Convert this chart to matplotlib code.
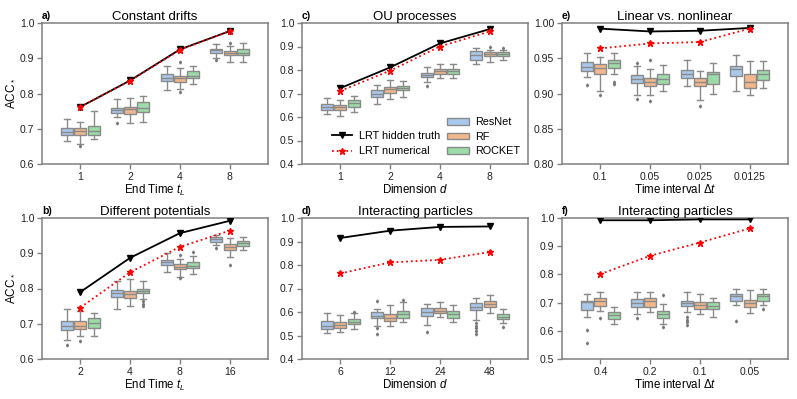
import matplotlib
matplotlib.use('Agg')
import matplotlib.pyplot as plt
from matplotlib.patches import Patch
from matplotlib.lines import Line2D

plt.rcParams['font.family'] = ['Liberation Sans', 'DejaVu Sans']
plt.rcParams['mathtext.fontset'] = 'custom'
plt.rcParams['mathtext.rm'] = 'Liberation Sans'
plt.rcParams['mathtext.it'] = 'Liberation Sans:italic'

MODELS = ['ResNet', 'RF', 'ROCKET']
COLORS = ['#a9c8ec', '#f2b78c', '#9ddba8']
EDGE = '#8a8a8a'

# ---- panel a: constant drifts ----
a_ticks = ['1', '2', '4', '8']
a_truth = [0.762, 0.837, 0.925, 0.977]
a_num = [0.762, 0.836, 0.924, 0.977]
# per model: [whislo, q1, med, q3, whishi] per group
a_stats = [
    [[0.665, 0.682, 0.692, 0.703, 0.729], [0.732, 0.745, 0.753, 0.760, 0.783],
     [0.810, 0.836, 0.845, 0.855, 0.878], [0.902, 0.916, 0.922, 0.927, 0.940]],
    [[0.658, 0.682, 0.693, 0.703, 0.718], [0.717, 0.741, 0.755, 0.762, 0.788],
     [0.814, 0.834, 0.843, 0.851, 0.873], [0.888, 0.908, 0.915, 0.921, 0.935]],
    [[0.670, 0.683, 0.695, 0.709, 0.750], [0.718, 0.747, 0.758, 0.775, 0.793],
     [0.828, 0.844, 0.851, 0.863, 0.878], [0.890, 0.908, 0.916, 0.925, 0.942]],
]
a_fliers = [
    [[], [0.715], [], [0.895]],
    [[0.651], [], [0.890, 0.803], [0.943]],
    [[], [], [], []],
]

# ---- panel b: different potentials ----
b_ticks = ['2', '4', '8', '16']
b_truth = [0.790, 0.887, 0.957, 0.992]
b_num = [0.746, 0.846, 0.918, 0.964]
b_stats = [
    [[0.653, 0.683, 0.693, 0.708, 0.741], [0.743, 0.776, 0.787, 0.797, 0.821],
     [0.847, 0.866, 0.875, 0.882, 0.902], [0.923, 0.933, 0.941, 0.946, 0.953]],
    [[0.666, 0.686, 0.694, 0.707, 0.735], [0.751, 0.774, 0.784, 0.794, 0.826],
     [0.834, 0.855, 0.862, 0.869, 0.885], [0.888, 0.908, 0.917, 0.925, 0.942]],
    [[0.664, 0.689, 0.703, 0.715, 0.730], [0.770, 0.786, 0.792, 0.800, 0.821],
     [0.842, 0.857, 0.865, 0.875, 0.892], [0.908, 0.921, 0.928, 0.935, 0.947]],
]
b_fliers = [
    [[0.640], [], [], [0.915]],
    [[0.652], [], [0.894, 0.830], [0.868]],
    [[], [0.764, 0.757, 0.750], [0.904], []],
]

# ---- panel c: OU processes ----
c_ticks = ['1', '2', '4', '8']
c_truth = [0.723, 0.811, 0.913, 0.974]
c_num = [0.711, 0.797, 0.900, 0.964]
c_stats = [
    [[0.612, 0.630, 0.644, 0.656, 0.680], [0.656, 0.684, 0.698, 0.716, 0.737],
     [0.747, 0.770, 0.780, 0.789, 0.811], [0.825, 0.844, 0.862, 0.879, 0.893]],
    [[0.606, 0.630, 0.642, 0.651, 0.673], [0.676, 0.701, 0.718, 0.727, 0.758],
     [0.768, 0.784, 0.796, 0.805, 0.825], [0.836, 0.858, 0.869, 0.875, 0.885]],
    [[0.623, 0.644, 0.658, 0.673, 0.690], [0.687, 0.713, 0.725, 0.733, 0.755],
     [0.765, 0.784, 0.796, 0.805, 0.825], [0.841, 0.858, 0.868, 0.875, 0.885]],
]
c_fliers = [
    [[], [], [0.730], []],
    [[], [], [], [0.896]],
    [[], [], [], [0.893]],
]

# ---- panel d: interacting particles (dimension) ----
d_ticks = ['6', '12', '24', '48']
d_truth = [0.915, 0.946, 0.962, 0.964]
d_num = [0.764, 0.811, 0.822, 0.855]
d_stats = [
    [[0.509, 0.528, 0.542, 0.562, 0.595], [0.542, 0.573, 0.585, 0.599, 0.613],
     [0.545, 0.583, 0.602, 0.616, 0.634], [0.566, 0.609, 0.623, 0.640, 0.659]],
    [[0.514, 0.531, 0.545, 0.559, 0.588], [0.541, 0.562, 0.573, 0.590, 0.630],
     [0.580, 0.595, 0.606, 0.616, 0.644], [0.595, 0.620, 0.634, 0.647, 0.672]],
    [[0.528, 0.548, 0.559, 0.569, 0.595], [0.559, 0.576, 0.590, 0.605, 0.642],
     [0.559, 0.576, 0.590, 0.605, 0.630], [0.552, 0.570, 0.580, 0.590, 0.613]],
]
d_fliers = [
    [[], [0.647, 0.530, 0.505], [0.513], [0.552, 0.540, 0.530, 0.520, 0.505]],
    [[], [], [], []],
    [[0.600], [0.650], [], [0.535]],
]

# ---- panel e: linear vs. nonlinear ----
e_ticks = ['0.1', '0.05', '0.025', '0.0125']
e_truth = [0.992, 0.988, 0.989, 0.993]
e_num = [0.964, 0.971, 0.973, 0.992]
e_stats = [
    [[0.923, 0.932, 0.938, 0.944, 0.957], [0.898, 0.915, 0.921, 0.926, 0.939],
     [0.911, 0.922, 0.928, 0.934, 0.947], [0.904, 0.925, 0.935, 0.939, 0.954]],
    [[0.904, 0.927, 0.936, 0.942, 0.952], [0.898, 0.911, 0.917, 0.922, 0.935],
     [0.891, 0.910, 0.917, 0.922, 0.932], [0.898, 0.908, 0.917, 0.927, 0.946]],
    [[0.927, 0.936, 0.943, 0.947, 0.957], [0.903, 0.914, 0.920, 0.928, 0.941],
     [0.899, 0.913, 0.927, 0.930, 0.943], [0.908, 0.919, 0.927, 0.934, 0.946]],
]
e_fliers = [
    [[0.912], [0.943, 0.892], [], []],
    [[0.898], [0.948, 0.890], [0.882], []],
    [[0.917, 0.914], [], [], []],
]

# ---- panel f: interacting particles (time interval) ----
f_ticks = ['0.4', '0.2', '0.1', '0.05']
f_truth = [0.992, 0.992, 0.995, 0.995]
f_num = [0.801, 0.866, 0.913, 0.963]
f_stats = [
    [[0.650, 0.674, 0.701, 0.704, 0.731], [0.660, 0.684, 0.700, 0.713, 0.736],
     [0.668, 0.688, 0.700, 0.707, 0.739], [0.692, 0.707, 0.722, 0.730, 0.748]],
    [[0.671, 0.688, 0.706, 0.718, 0.739], [0.665, 0.684, 0.704, 0.716, 0.737],
     [0.660, 0.677, 0.692, 0.701, 0.730], [0.662, 0.686, 0.698, 0.710, 0.743]],
    [[0.624, 0.641, 0.656, 0.668, 0.686], [0.624, 0.647, 0.660, 0.671, 0.694],
     [0.650, 0.677, 0.688, 0.701, 0.716], [0.692, 0.707, 0.724, 0.730, 0.748]],
]
f_fliers = [
    [[0.603, 0.556], [0.645], [0.650, 0.640, 0.630, 0.620], [0.635]],
    [[0.647], [], [], []],
    [[], [0.727, 0.613], [], [0.677]],
]

PANELS = [
    ('a)', 'Constant drifts', 'End Time $t_L$', a_ticks, a_truth, a_num, a_stats, a_fliers, (0.6, 1.0), 0.1, '%.1f'),
    ('b)', 'Different potentials', 'End Time $t_L$', b_ticks, b_truth, b_num, b_stats, b_fliers, (0.6, 1.0), 0.1, '%.1f'),
    ('c)', 'OU processes', 'Dimension $d$', c_ticks, c_truth, c_num, c_stats, c_fliers, (0.4, 1.0), 0.1, '%.1f'),
    ('d)', 'Interacting particles', 'Dimension $d$', d_ticks, d_truth, d_num, d_stats, d_fliers, (0.4, 1.0), 0.1, '%.1f'),
    ('e)', 'Linear vs. nonlinear', r'Time interval $\Delta t$', e_ticks, e_truth, e_num, e_stats, e_fliers, (0.8, 1.0), 0.05, '%.2f'),
    ('f)', 'Interacting particles', r'Time interval $\Delta t$', f_ticks, f_truth, f_num, f_stats, f_fliers, (0.5, 1.0), 0.1, '%.1f'),
]

W, H = 797, 399
fig = plt.figure(figsize=(W / 100, H / 100), dpi=100)
lefts = [42, 302, 562]
tops = [23, 218]
aw, ah = 226, 141


def draw_panel(ax, label, title, xlabel, ticks, truth, num, stats, fliers, ylim, ystep, fmt):
    n = len(ticks)
    offsets = [-0.267, 0.0, 0.267]
    for m in range(3):
        bx = []
        for g in range(n):
            lo, q1, med, q3, hi = stats[m][g]
            bx.append(dict(whislo=lo, q1=q1, med=med, q3=q3, whishi=hi, fliers=fliers[m][g]))
        ax.bxp(bx, positions=[g + offsets[m] for g in range(n)], widths=0.245,
               patch_artist=True, showfliers=True, manage_ticks=False,
               boxprops=dict(facecolor=COLORS[m], edgecolor=EDGE, linewidth=1.0),
               medianprops=dict(color=EDGE, linewidth=1.0),
               whiskerprops=dict(color=EDGE, linewidth=1.0),
               capprops=dict(color=EDGE, linewidth=1.0),
               flierprops=dict(marker='d', markersize=1.5, markerfacecolor='#777777',
                               markeredgecolor='#777777', linestyle='none'))
    xs = list(range(n))
    ax.plot(xs, truth, color='black', marker='v', markersize=4, linewidth=1.3, zorder=5)
    ax.plot(xs, num, color='red', marker='*', markersize=4.5, linestyle=':', linewidth=1.3, zorder=6)
    ax.set_xlim(-0.77, n - 1 + 0.77)
    ax.set_xticks(xs)
    ax.set_xticklabels(ticks)
    ax.set_ylim(*ylim)
    yt = []
    v = ylim[0]
    while v <= ylim[1] + 1e-9:
        yt.append(round(v, 4))
        v += ystep
    ax.set_yticks(yt)
    ax.set_yticklabels([fmt % t for t in yt])
    ax.set_xlabel(xlabel, fontsize=8.3, labelpad=1)
    ax.set_title(title, fontsize=9.5, pad=2.5)
    ax.text(0.0, 1.015, label, transform=ax.transAxes, fontsize=7.5, fontweight='bold',
            ha='left', va='bottom')
    for s in ax.spines.values():
        s.set_color('#808080')
        s.set_linewidth(1.1)
    ax.tick_params(axis='both', colors='#808080', labelcolor='#222222', labelsize=7.5,
                   length=3.5, width=1, pad=2)


axes = {}
for i, p in enumerate(PANELS):
    col, row = i // 2, i % 2
    l, t = lefts[col], tops[row]
    ax = fig.add_axes([l / W, 1 - (t + ah) / H, aw / W, ah / H])
    draw_panel(ax, *p)
    axes[p[0]] = ax
    if col == 0:
        ax.set_ylabel('ACC$_*$', fontsize=8.5, labelpad=3)

# legends in panel c
axc = axes['c)']
line_handles = [
    Line2D([], [], color='black', marker='v', markersize=4, linewidth=1.3, label='LRT hidden truth'),
    Line2D([], [], color='red', marker='*', markersize=4.5, linestyle=':', linewidth=1.3, label='LRT numerical'),
]
leg1 = axc.legend(handles=line_handles, loc='lower left', bbox_to_anchor=(0.1, 0.0),
                  frameon=False, fontsize=7.8, handlelength=1.8, handletextpad=0.7,
                  borderpad=0.2, labelspacing=0.5)
axc.add_artist(leg1)
patch_handles = [Patch(facecolor=COLORS[i], edgecolor=EDGE, label=MODELS[i]) for i in range(3)]
axc.legend(handles=patch_handles, loc='lower right', bbox_to_anchor=(1.0, 0.0),
           frameon=False, fontsize=7.8, handlelength=2.0, handleheight=0.6,
           handletextpad=0.6, borderpad=0.2, labelspacing=0.42)

fig.savefig('out.png', dpi=100, facecolor='white')
